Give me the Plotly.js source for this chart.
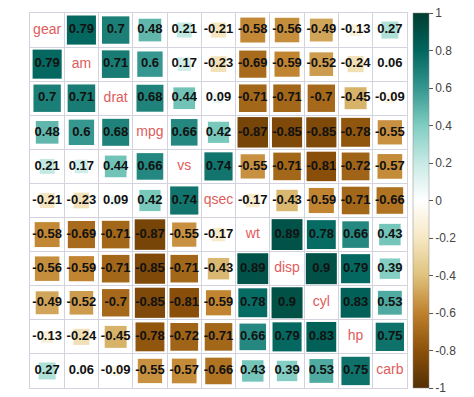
<!DOCTYPE html>
<html><head><meta charset="utf-8">
<script src="https://cdn.plot.ly/plotly-3.0.1.min.js"></script>
<style>html,body{margin:0;padding:0;background:#fff}#chart{width:474px;height:397px}</style>
</head><body><div id="chart"></div>
<script>
const vars = ["gear","am","drat","mpg","vs","qsec","wt","disp","cyl","hp","carb"];
const rowGear = [1,0.79,0.7,0.48,0.21,-0.21,-0.58,-0.56,-0.49,-0.13,0.27];
const rowAm   = [0.79,1,0.71,0.6,0.17,-0.23,-0.69,-0.59,-0.52,-0.24,0.06];
const rowDrat = [0.7,0.71,1,0.68,0.44,0.09,-0.71,-0.71,-0.7,-0.45,-0.09];
const rowMpg  = [0.48,0.6,0.68,1,0.66,0.42,-0.87,-0.85,-0.85,-0.78,-0.55];
const rowVs   = [0.21,0.17,0.44,0.66,1,0.74,-0.55,-0.71,-0.81,-0.72,-0.57];
const rowQsec = [-0.21,-0.23,0.09,0.42,0.74,1,-0.17,-0.43,-0.59,-0.71,-0.66];
const rowWt   = [-0.58,-0.69,-0.71,-0.87,-0.55,-0.17,1,0.89,0.78,0.66,0.43];
const rowDisp = [-0.56,-0.59,-0.71,-0.85,-0.71,-0.43,0.89,1,0.9,0.79,0.39];
const rowCyl  = [-0.49,-0.52,-0.7,-0.85,-0.81,-0.59,0.78,0.9,1,0.83,0.53];
const rowHp   = [-0.13,-0.24,-0.45,-0.78,-0.72,-0.71,0.66,0.79,0.83,1,0.75];
const rowCarb = [0.27,0.06,-0.09,-0.55,-0.57,-0.66,0.43,0.39,0.53,0.75,1];
const rows = [rowGear,rowAm,rowDrat,rowMpg,rowVs,rowQsec,rowWt,rowDisp,rowCyl,rowHp,rowCarb];
const colorbarTicks = [1,0.8,0.6,0.4,0.2,0,-0.2,-0.4,-0.6,-0.8,-1];

const brbg = ["#543005","#8C510A","#BF812D","#DFC27D","#F6E8C3","#FFFFFF","#C7EAE5","#80CDC1","#35978F","#01665E","#003C30"];
const cscale = brbg.map((c,i)=>[i/(brbg.length-1), c]);

const W=474,H=397, ml=30, mr=67, mt=13, mb=9;
const n = vars.length;
const cellPx = Math.min((W-ml-mr)/n, (H-mt-mb)/n);

const mx=[],my=[],mc=[],ms=[],tx=[],ty=[],tt=[],dx=[],dy=[],dt=[];
rows.forEach((r,i)=>{
  r.forEach((v,j)=>{
    if(i===j){dx.push(j);dy.push(i);dt.push(vars[i]);return;}
    mx.push(j);my.push(i);mc.push(v);ms.push(Math.sqrt(Math.abs(v))*cellPx*0.96);
    tx.push(j);ty.push(i);tt.push(String(v));
  });
});

const data = [
  {type:'scatter',mode:'markers',x:mx,y:my,hoverinfo:'skip',opacity:1,
   marker:{symbol:'square',size:ms,color:mc,colorscale:cscale,cmin:-1,cmax:1,opacity:1,
     line:{width:0},
     showscale:true,
     colorbar:{x:1.016,xanchor:'left',y:0.5,yanchor:'middle',len:1.0,lenmode:'fraction',
       thickness:16,thicknessmode:'pixels',outlinewidth:0.5,outlinecolor:'#888',
       tickmode:'array',tickvals:colorbarTicks,ticktext:colorbarTicks.map(String),
       ticks:'outside',ticklen:4,tickcolor:'#555',tickfont:{family:'Liberation Sans, Arial',size:12,color:'#444'},xpad:0,ypad:0}}},
  {type:'scatter',mode:'text',x:tx,y:ty,text:tt,hoverinfo:'skip',
   textfont:{family:'Liberation Sans, Arial',size:13,color:'#111',weight:'bold'}},
  {type:'scatter',mode:'text',x:dx,y:dy,text:dt,hoverinfo:'skip',
   textfont:{family:'Liberation Sans, Arial',size:14,color:'#e05c5c'}}
];

const ax = {range:[-0.5,n-0.5],tickmode:'linear',tick0:-0.5,dtick:1,showgrid:true,gridcolor:'#d3d3e0',gridwidth:1,
  showticklabels:false,zeroline:false,showline:true,mirror:true,linecolor:'#d3d3e0',ticks:'',fixedrange:true};
const layout = {
  width:W,height:H,margin:{l:ml,r:mr,t:mt,b:mb},paper_bgcolor:'#fff',plot_bgcolor:'#fff',showlegend:false,
  xaxis:Object.assign({},ax),
  yaxis:Object.assign({},ax,{range:[n-0.5,-0.5]})
};
Plotly.newPlot('chart',data,layout,{staticPlot:true,displayModeBar:false});
</script></body></html>
